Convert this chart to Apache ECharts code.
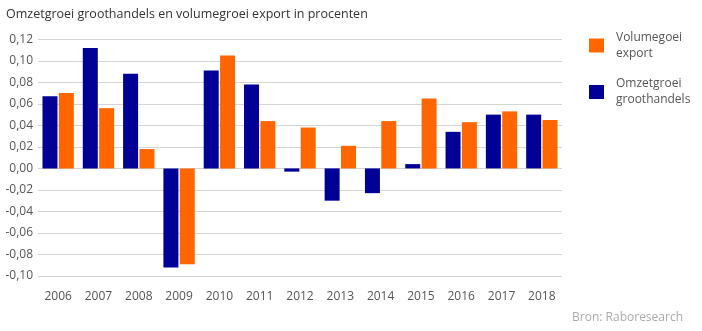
<!DOCTYPE html>
<html>
<head>
<meta charset="utf-8">
<script src="https://cdn.jsdelivr.net/npm/echarts@6/dist/echarts.min.js"></script>
<style>
html,body{margin:0;padding:0;background:#fff;}
#chart{width:702px;height:331px;}
</style>
</head>
<body>
<div id="chart"></div>
<script>
var years = ['2006','2007','2008','2009','2010','2011','2012','2013','2014','2015','2016','2017','2018'];
var omzetgroei = [0.067, 0.112, 0.088, -0.092, 0.091, 0.078, -0.003, -0.030, -0.023, 0.004, 0.034, 0.050, 0.050];
var volumegroei = [0.070, 0.056, 0.018, -0.089, 0.105, 0.044, 0.038, 0.021, 0.044, 0.065, 0.043, 0.053, 0.045];
var titleText = 'Omzetgroei groothandels en volumegroei export in procenten';
var sourceText = 'Bron: Raboresearch';
var nameOmzet = 'Omzetgroei groothandels';
var nameVolume = 'Volumegoei export';

var FONT = '"Open Sans", "Noto Sans", sans-serif';
var chart = echarts.init(document.getElementById('chart'), null, {renderer: 'canvas'});
chart.setOption({
  animation: false,
  backgroundColor: '#ffffff',
  textStyle: {fontFamily: FONT},
  title: [{
    text: titleText,
    left: 1, top: 3,
    textStyle: {fontFamily: FONT, fontSize: 12.5, fontWeight: 'normal', color: '#333333'}
  }, {
    text: sourceText,
    right: 14, top: 307,
    textStyle: {fontFamily: FONT, fontSize: 12, fontWeight: 'normal', color: '#aaaaaa'}
  }],
  legend: {
    orient: 'vertical',
    left: 589, top: 29.5,
    padding: 0,
    itemWidth: 15, itemHeight: 14,
    itemGap: 14.5,
    icon: 'rect',
    data: [nameVolume, nameOmzet],
    formatter: function (n) { return n.replace(' ', '\n'); },
    textStyle: {fontFamily: FONT, fontSize: 12, color: '#555555', lineHeight: 16, padding: [0,0,0,7]}
  },
  grid: {left: 38, top: 39.3, width: 524, height: 236.7, containLabel: false},
  xAxis: {
    type: 'category',
    data: years,
    axisLine: {show: false},
    axisTick: {show: false},
    axisLabel: {color: '#555555', fontSize: 12, fontFamily: FONT, margin: 15}
  },
  yAxis: {
    type: 'value',
    min: -0.10, max: 0.12, interval: 0.02,
    axisLine: {show: false},
    axisTick: {show: false},
    splitLine: {lineStyle: {color: '#d4d4d4', width: 1}},
    axisLabel: {
      color: '#555555', fontSize: 12, fontFamily: FONT, margin: 5,
      formatter: function (v) {
        if (Math.abs(v) < 1e-9) v = 0;
        return v.toFixed(2).replace('.', ',');
      }
    }
  },
  series: [{
    name: nameOmzet,
    type: 'bar',
    data: omzetgroei,
    barWidth: 15,
    barGap: '9%',
    itemStyle: {color: '#000096'}
  }, {
    name: nameVolume,
    type: 'bar',
    data: volumegroei,
    barWidth: 15,
    barGap: '9%',
    itemStyle: {color: '#ff6600'}
  }]
});
</script>
</body>
</html>
